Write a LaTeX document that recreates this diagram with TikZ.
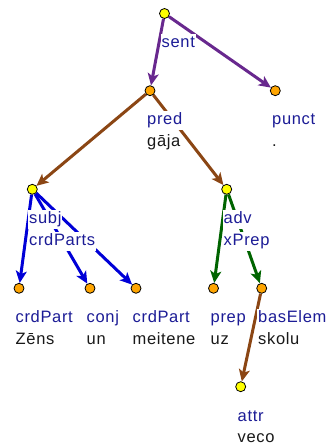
\documentclass[tikz,border=0pt]{standalone}
\usepackage{fontspec}
\setmainfont[LetterSpace=4]{Liberation Sans}
\usetikzlibrary{arrows.meta}
\pgfdeclarelayer{edges}
\pgfdeclarelayer{tags}
\pgfsetlayers{edges,tags,main}
\definecolor{rolecol}{RGB}{28,28,150}
\definecolor{wordcol}{RGB}{25,25,25}
\definecolor{headfill}{RGB}{255,255,0}
\definecolor{leaffill}{RGB}{255,165,0}
\definecolor{sentcol}{RGB}{104,40,142}
\definecolor{predcol}{RGB}{139,70,20}
\definecolor{crdcol}{RGB}{0,0,215}
\definecolor{prepcol}{RGB}{0,100,0}
\begin{document}
\begin{tikzpicture}[x=1pt,y=-1pt,
  tok/.style={circle,draw=black,line width=0.8pt,minimum size=10pt,inner sep=0pt},
  headtok/.style={tok,fill=headfill},
  leaftok/.style={tok,fill=leaffill},
  role/.style={anchor=base west,fill=white,inner sep=1pt,text=rolecol,
    font=\fontsize{16.5}{20}\selectfont,text height=12.5pt,text depth=4.5pt},
  word/.style={role,text=wordcol},
  link/.style={line width=3pt,-{Stealth[length=12pt,width=11pt,inset=3pt]}}]
\useasboundingbox (0,0) rectangle (327,444);

% token circles
\node[headtok] (sent)    at (164.5,13.5) {};
\node[leaftok] (pred)    at (150,90.7) {};
\node[leaftok] (punct)   at (275.3,90.7) {};
\node[headtok] (subj)    at (32.3,189.3) {};
\node[headtok] (adv)     at (226.7,189.3) {};
\node[leaftok] (zens)    at (19,288.3) {};
\node[leaftok] (un)      at (90,288.3) {};
\node[leaftok] (meitene) at (136,288.3) {};
\node[leaftok] (uz)      at (213.5,288.3) {};
\node[leaftok] (skolu)   at (261.7,288.3) {};
\node[headtok] (veco)    at (240.7,386.7) {};

% role and word labels
\begin{pgfonlayer}{tags}
\node[role] (sent-r)    at (160.5,47.5) {sent};
\node[role] (pred-r)    at (146,124.5) {pred};
\node[word] (pred-w)    at (146,146) {gāja};
\node[role] (punct-r)   at (271,124.5) {punct};
\node[word] (punct-w)   at (271,146) {.};
\node[role] (subj-r)    at (28,223) {subj};
\node[role] (subj-r2)   at (28,245) {crdParts};
\node[role] (adv-r)     at (222.5,223) {adv};
\node[role] (adv-r2)    at (222.5,245) {xPrep};
\node[role] (zens-r)    at (14.5,322.5) {crdPart};
\node[word] (zens-w)    at (14.5,344) {Zēns};
\node[role] (un-r)      at (85.5,322.5) {conj};
\node[word] (un-w)      at (85.5,344) {un};
\node[role] (meitene-r) at (131.5,322.5) {crdPart};
\node[word] (meitene-w) at (131.5,344) {meitene};
\node[role] (uz-r)      at (209.5,322.5) {prep};
\node[word] (uz-w)      at (209.5,344) {uz};
\node[role] (skolu-r)   at (257,322.5) {basElem};
\node[word] (skolu-w)   at (257,344) {skolu};
\node[role] (veco-r)    at (236.5,421) {attr};
\node[word] (veco-w)    at (236.5,442) {veco};
\end{pgfonlayer}

% dependency arcs
\begin{pgfonlayer}{edges}
\draw[link,sentcol] (sent) -- (pred);
\draw[link,sentcol] (sent) -- (punct);
\draw[link,predcol] (pred) -- (subj);
\draw[link,predcol] (pred) -- (adv);
\draw[link,crdcol] (subj) -- (zens);
\draw[link,crdcol] (subj) -- (un);
\draw[link,crdcol] (subj) -- (meitene);
\draw[link,prepcol] (adv) -- (uz);
\draw[link,prepcol] (adv) -- (skolu);
\draw[link,predcol] (skolu) -- (veco);
\end{pgfonlayer}
\end{tikzpicture}
\end{document}
